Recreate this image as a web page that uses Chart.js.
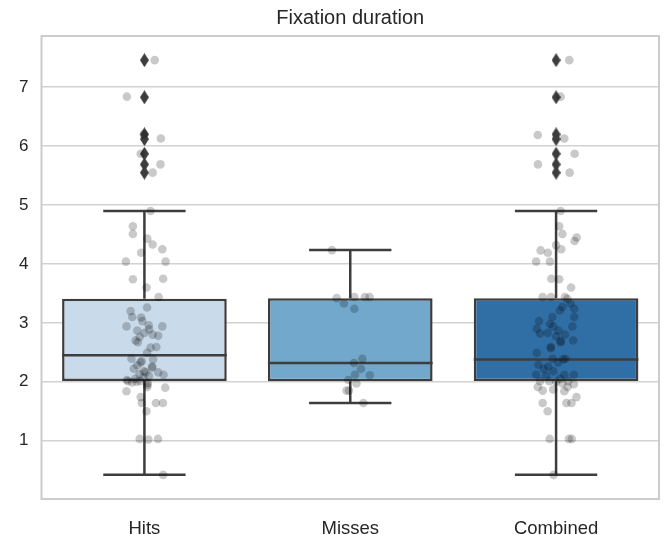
<!DOCTYPE html>
<html>
<head>
<meta charset="utf-8">
<script src="https://cdn.jsdelivr.net/npm/chart.js@4/dist/chart.umd.min.js"></script>
<style>
html,body{margin:0;padding:0;background:#fff;}
#c{display:block;}
</style>
</head>
<body>
<canvas id="c" width="666" height="535"></canvas>
<script>
// ---------- data ----------
const categories = ['Hits', 'Misses', 'Combined'];
const yTicks = [1, 2, 3, 4, 5, 6, 7];

const q1 = [2.015, 2.008, 2.015];
const medians = [2.45, 2.32, 2.38];
const q3 = [3.41, 3.42, 3.42];
const whiskerLow = [0.42, 1.64, 0.42];
const whiskerHigh = [4.90, 4.235, 4.90];

const hitsOutliers = [7.46, 6.83, 6.20, 6.12, 5.87, 5.69, 5.55];
const missesOutliers = [];
const combinedOutliers = [7.46, 6.83, 6.20, 6.12, 5.87, 5.69, 5.55];

const hitsValues = [7.46, 6.84, 6.20, 6.13, 5.87, 5.69, 5.55, 4.90, 4.64, 4.51, 4.43, 4.33, 4.25, 4.19, 4.04, 4.04,
  3.74, 3.75, 3.60, 3.44, 3.26, 3.20, 3.10, 3.09, 3.03, 2.96, 2.94, 2.94, 2.87, 2.89, 2.83, 2.80, 2.78, 2.76,
  2.70, 2.67, 2.58, 2.59, 2.49, 2.39, 2.33, 2.38, 2.22, 2.24, 2.16, 2.13, 2.16, 2.12, 2.07, 2.01, 2.00, 1.98,
  1.84, 1.90, 1.91, 1.74, 1.64, 1.64, 1.64, 1.50, 1.03, 1.02, 1.03, 0.42,
  2.35, 2.26, 2.18, 2.10, 1.95, 2.01, 2.05, 2.28, 2.03, 1.99];
const hitsJitter = [0.05, -0.085, -0.003, 0.08, -0.018, 0.078, 0.04, 0.03, -0.056, -0.056, 0.014, 0.04, 0.087, -0.016, -0.09, 0.103,
  -0.056, 0.091, 0.01, 0.069, 0.013, -0.067, -0.059, -0.016, -0.01, 0.021, -0.087, 0.087, -0.035, 0.023, 0.0, 0.04, 0.067, -0.023,
  -0.043, -0.032, 0.03, 0.058, 0.013, -0.063, -0.019, 0.042, -0.052, 0.037, 0.006, -0.024, 0.067, 0.093, -0.005, -0.08, -0.038, 0.016,
  -0.087, 0.101, 0.014, -0.018, -0.013, 0.056, 0.09, 0.01, -0.023, 0.019, 0.066, 0.091,
  -0.013, 0.038, -0.002, 0.022, 0.015, -0.02, -0.045, -0.035, -0.085, -0.06];

const missesValues = [4.235, 3.42, 3.33, 3.44, 3.24, 3.44, 3.44, 2.39, 2.32, 2.22, 2.12, 2.11, 2.03, 1.97, 1.85, 1.85, 1.64];
const missesJitter = [-0.089, -0.066, -0.031, 0.02, 0.02, 0.071, 0.094, 0.059, 0.018, 0.052, 0.023, 0.095, -0.009, 0.03, -0.006, -0.018, 0.064];

const combinedValues = [7.46, 6.84, 6.19, 6.13, 5.87, 5.69, 5.55, 4.90, 4.64, 4.51, 4.45, 4.39, 4.32, 4.23, 4.25, 4.19, 4.04, 4.04,
  3.75, 3.74, 3.60, 3.44, 3.44, 3.44, 3.41, 3.33, 3.27, 3.24, 3.21, 3.10, 3.10, 3.03, 2.98, 2.94, 2.90, 2.94, 2.87,
  2.82, 2.83, 2.77, 2.80, 2.69, 2.70, 2.59, 2.67, 2.57, 2.49, 2.39, 2.39, 2.38, 2.29, 2.26, 2.18, 2.12, 2.10, 2.12, 2.12,
  2.01, 2.01, 2.00, 2.01, 1.91, 1.85, 1.87, 1.84, 1.96, 1.91, 1.64, 1.64, 1.64, 1.74, 1.50, 1.03, 1.03, 1.03, 0.42,
  2.33, 2.22, 2.05, 1.97];
const combinedJitter = [0.064, 0.022, -0.089, 0.04, 0.09, -0.088, 0.066, 0.022, 0.015, 0.031, 0.10, 0.09, 0.0, -0.075, 0.025, -0.04, -0.097, -0.03,
  -0.023, 0.015, 0.073, -0.065, -0.025, 0.043, 0.055, 0.07, 0.031, 0.088, 0.018, -0.018, 0.088, -0.083, -0.03, 0.079, -0.094, -0.014, 0.012,
  -0.078, -0.041, 0.0, 0.043, 0.022, 0.083, -0.025, 0.023, -0.026, -0.094, -0.017, 0.046, 0.035, -0.086, -0.038, -0.014, -0.097, -0.049, 0.04, 0.086,
  -0.078, -0.033, 0.0, 0.059, -0.089, -0.065, -0.014, 0.04, 0.086, 0.056, -0.065, 0.05, 0.075, 0.099, -0.041, -0.031, 0.062, 0.076, -0.012,
  0.01, -0.06, 0.02, 0.03];

// ---------- styles ----------
const boxColors = ['#c9dbeb', '#72a8cb', '#306fa6'];
const edgeColor = '#3d3d3d';
const gridColor = '#d2d2d2';
const textColor = '#262626';
const fontFamily = '"Liberation Sans", Arial, Helvetica, sans-serif';

// thin diamond marker for outliers
const diamond = document.createElement('canvas');
diamond.width = 9; diamond.height = 14;
(function () {
  const g = diamond.getContext('2d');
  g.fillStyle = '#3d3d3d';
  g.beginPath();
  g.moveTo(4.5, 0); g.lineTo(9, 7); g.lineTo(4.5, 14); g.lineTo(0, 7);
  g.closePath(); g.fill();
})();

// ---------- datasets ----------
const datasets = [];

datasets.push({
  type: 'bar',
  data: categories.map((c, i) => ({ x: i, y: [q1[i], q3[i]] })),
  backgroundColor: boxColors,
  borderColor: edgeColor,
  borderWidth: 2.5,
  borderSkipped: false,
  barPercentage: 0.8,
  categoryPercentage: 1.0,
  order: 10
});

function seg(a, b) {
  return {
    type: 'line', data: [a, b], borderColor: edgeColor, borderWidth: 2.5,
    pointRadius: 0, pointHoverRadius: 0, fill: false, tension: 0, order: 5
  };
}
categories.forEach((c, i) => {
  datasets.push(seg({ x: i, y: q3[i] }, { x: i, y: whiskerHigh[i] }));
  datasets.push(seg({ x: i, y: q1[i] }, { x: i, y: whiskerLow[i] }));
  datasets.push(seg({ x: i - 0.2, y: whiskerHigh[i] }, { x: i + 0.2, y: whiskerHigh[i] }));
  datasets.push(seg({ x: i - 0.2, y: whiskerLow[i] }, { x: i + 0.2, y: whiskerLow[i] }));
  datasets.push(seg({ x: i - 0.4, y: medians[i] }, { x: i + 0.4, y: medians[i] }));
});

const outlierSets = [hitsOutliers, missesOutliers, combinedOutliers];
outlierSets.forEach((arr, i) => {
  datasets.push({
    type: 'scatter',
    data: arr.map(v => ({ x: i, y: v })),
    pointStyle: diamond,
    pointRadius: 6,
    order: 3
  });
});

const stripSets = [[hitsValues, hitsJitter], [missesValues, missesJitter], [combinedValues, combinedJitter]];
stripSets.forEach(([vals, jit], i) => {
  datasets.push({
    type: 'scatter',
    data: vals.map((v, k) => ({ x: i + jit[k], y: v })),
    backgroundColor: 'rgba(0,0,0,0.21)',
    borderWidth: 0,
    pointRadius: 4.3,
    pointHoverRadius: 4.3,
    order: 1
  });
});

// frame around plot area
const framePlugin = {
  id: 'frame',
  beforeDatasetsDraw(chart) {
    const a = chart.chartArea, ctx = chart.ctx;
    ctx.save();
    ctx.strokeStyle = '#cccccc';
    ctx.lineWidth = 2;
    ctx.strokeRect(a.left, a.top, a.right - a.left, a.bottom - a.top);
    ctx.restore();
  }
};

new Chart(document.getElementById('c'), {
  data: { datasets },
  options: {
    responsive: false,
    animation: false,
    devicePixelRatio: 1,
    layout: { padding: { left: 0, right: 2, top: 0, bottom: 0 } },
    plugins: {
      legend: { display: false },
      tooltip: { enabled: false },
      title: {
        display: true,
        text: 'Fixation duration',
        fullSize: false,
        color: textColor,
        font: { family: fontFamily, size: 20, weight: 'normal' },
        padding: { top: 6, bottom: 6 }
      }
    },
    scales: {
      x: {
        type: 'linear',
        offset: false,
        min: -0.5, max: 2.5,
        grid: { display: false, offset: false },
        border: { display: false },
        afterBuildTicks: s => { s.ticks = categories.map((c, i) => ({ value: i })); },
        afterFit: s => { s.height = 36; },
        ticks: {
          callback: v => categories[v],
          color: textColor,
          font: { family: fontFamily, size: 18.5 },
          padding: 11,
          maxRotation: 0
        }
      },
      y: {
        type: 'linear',
        min: 0.01, max: 7.87,
        grid: { color: gridColor, lineWidth: 1.5, drawTicks: false },
        border: { display: false },
        afterBuildTicks: s => { s.ticks = yTicks.map(v => ({ value: v })); },
        afterFit: s => { s.width = 41.5; },
        ticks: {
          color: textColor,
          font: { family: fontFamily, size: 17 },
          padding: 13
        }
      }
    }
  },
  plugins: [framePlugin]
});
</script>
</body>
</html>
